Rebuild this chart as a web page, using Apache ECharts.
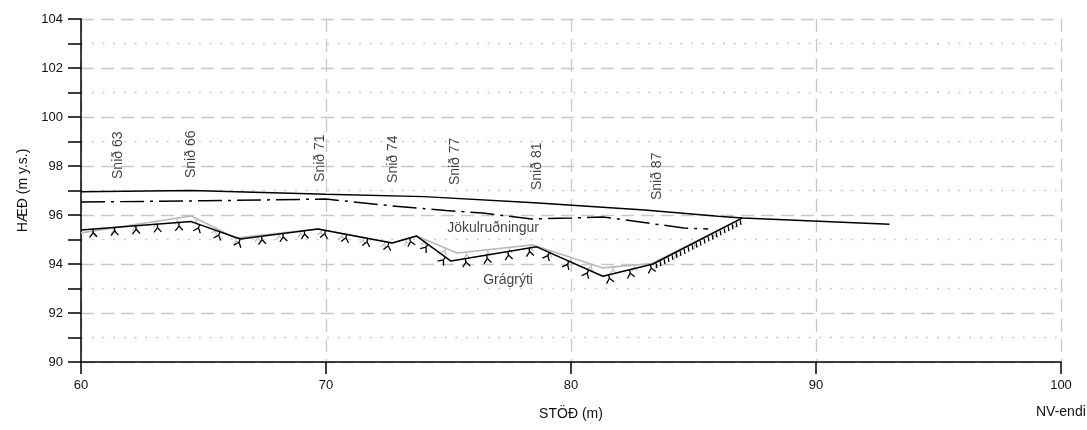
<!DOCTYPE html>
<html><head><meta charset="utf-8">
<script src="https://cdn.jsdelivr.net/npm/echarts@6/dist/echarts.min.js"></script>
<style>html,body{margin:0;padding:0;background:#fff}#c{width:1087px;height:430px}</style>
</head><body><div id="c"></div>
<script>
// ---- data ----
const xTicks = [60, 70, 80, 90, 100];
const yTicks = [90, 92, 94, 96, 98, 100, 102, 104];
// ground surface (solid)
const surfaceX = [60, 64.5, 70, 74, 78.5, 83, 86, 87, 93];
const surfaceY = [96.95, 97.0, 96.85, 96.75, 96.5, 96.2, 95.95, 95.88, 95.62];
// till boundary (dash-dot)
const tillX = [60, 65, 70, 72.7, 74.9, 76.4, 78.4, 80.0, 81.3, 84.6, 85.6];
const tillY = [96.53, 96.58, 96.65, 96.37, 96.18, 96.08, 95.84, 95.88, 95.92, 95.47, 95.43];
// bedrock surface (black)
const rockX = [60, 64.5, 66.5, 69.67, 72.7, 73.7, 75.1, 78.6, 81.3, 83.35, 87];
const rockY = [95.39, 95.73, 95.02, 95.43, 94.86, 95.14, 94.12, 94.7, 93.5, 94.0, 95.88];
// second bedrock interpretation (grey)
const rock2X = [60, 64.5, 66.3, 69.67, 72.7, 73.7, 75.35, 78.45, 81.3, 83.3, 87];
const rock2Y = [95.27, 95.96, 95.06, 95.43, 94.86, 95.14, 94.45, 94.78, 93.84, 94.02, 95.88];
// section labels
const sectionNames = ['Snið 63', 'Snið 66', 'Snið 71', 'Snið 74', 'Snið 77', 'Snið 81', 'Snið 87'];
const sectionX = [61.5, 64.5, 69.75, 72.73, 75.27, 78.6, 83.5];
const sectionY = [97.47, 97.51, 97.35, 97.31, 97.22, 97.02, 96.61];
// layer labels
const layerNames = ['Jökulruðningur', 'Grágrýti'];
const layerX = [76.82, 77.43];
const layerY = [95.47, 93.35];
const xName = 'STÖÐ (m)';
const yName = 'HÆÐ (m y.s.)';
const endName = 'NV-endi';

// ---- chart ----
const FONT = 'Liberation Sans, Arial, sans-serif';
const TXT = '#111';
const zip = (xs, ys) => xs.map((x, i) => [x, ys[i]]);
const denseFrom = 83.3;

function hatchSeries(xs, ys, color, spacing, offset, grey) {
  return {
    type: 'custom',
    silent: true,
    z: grey ? 3 : 5,
    data: zip(xs, ys),
    renderItem: function (params, api) {
      const i = params.dataIndex;
      if (i >= xs.length - 1) return null;
      const pts = xs.map((x, k) => api.coord([x, ys[k]]));
      const cum = [0];
      for (let k = 1; k < pts.length; k++) {
        cum.push(cum[k - 1] + Math.hypot(pts[k][0] - pts[k - 1][0], pts[k][1] - pts[k - 1][1]));
      }
      const a = pts[i], b = pts[i + 1];
      const L = cum[i + 1] - cum[i];
      const tx = (b[0] - a[0]) / L, ty = (b[1] - a[1]) / L;
      const nx = -ty, ny = tx;
      const children = [];
      const dense = !grey && xs[i] >= denseFrom - 0.01;
      const sp = dense ? 4.5 : spacing;
      let s = dense ? 3 : (Math.ceil((cum[i] - offset) / sp) * sp + offset - cum[i]);
      const stroke = { stroke: color, lineWidth: grey ? 1.1 : 1.3, fill: null };
      for (; s < L - (dense ? 2 : 0); s += sp) {
        const px = a[0] + tx * s, py = a[1] + ty * s;
        if (dense) {
          children.push({ type: 'line', shape: { x1: px + nx * 1, y1: py + ny * 1, x2: px + nx * 5.5 - tx * 1.5, y2: py + ny * 5.5 - ty * 1.5 }, style: stroke });
        } else {
          const h = grey ? 0.75 : 1;
          const sx = px + nx * 3.5 * h, sy = py + ny * 3.5 * h;
          children.push({ type: 'line', shape: { x1: px, y1: py, x2: sx, y2: sy }, style: stroke });
          children.push({ type: 'line', shape: { x1: sx, y1: sy, x2: px + nx * 8 * h - tx * 4 * h, y2: py + ny * 8 * h - ty * 4 * h }, style: stroke });
          children.push({ type: 'line', shape: { x1: sx, y1: sy, x2: px + nx * 8 * h + tx * 3.5 * h, y2: py + ny * 8 * h + ty * 3.5 * h }, style: stroke });
        }
      }
      return { type: 'group', children: children };
    }
  };
}

const chart = echarts.init(document.getElementById('c'), null, { renderer: 'canvas' });
chart.setOption({
  animation: false,
  backgroundColor: '#fff',
  textStyle: { fontFamily: FONT },
  grid: { left: 81, right: 26, top: 19, bottom: 68, containLabel: false },
  xAxis: {
    type: 'value', min: xTicks[0], max: xTicks[xTicks.length - 1], interval: 10,
    name: xName, nameLocation: 'middle', nameGap: 45,
    nameTextStyle: { color: TXT, fontSize: 14, fontFamily: FONT },
    axisLine: { lineStyle: { color: '#000', width: 1.5 } },
    axisTick: { length: 12, lineStyle: { color: '#000', width: 1.5 } },
    axisLabel: { color: TXT, fontSize: 13, fontFamily: FONT, margin: 17,
      formatter: v => xTicks.includes(v) ? String(v) : '' },
    splitLine: { show: true, lineStyle: { color: '#c8c8c8', width: 1.3, type: [13, 7] } }
  },
  yAxis: {
    type: 'value', min: yTicks[0], max: yTicks[yTicks.length - 1], interval: 2,
    name: yName, nameLocation: 'middle', nameGap: 42, nameRotate: 90,
    nameTextStyle: { color: TXT, fontSize: 14, fontFamily: FONT },
    axisLine: { show: true, lineStyle: { color: '#000', width: 1.5 } },
    axisTick: { show: true, length: 13, lineStyle: { color: '#000', width: 1.5 } },
    minorTick: { show: true, splitNumber: 2, length: 13, lineStyle: { color: '#000', width: 1.5 } },
    minorSplitLine: { show: true, lineStyle: { color: '#c8c8c8', width: 1.3, type: [2, 8.7] } },
    axisLabel: { color: TXT, fontSize: 13, fontFamily: FONT, margin: 18,
      formatter: v => yTicks.includes(v) ? String(v) : '' },
    splitLine: { show: true, lineStyle: { color: '#c8c8c8', width: 1.3, type: [13, 7] } }
  },
  graphic: [{
    type: 'text', left: 1036, top: 405,
    style: { text: endName, fill: TXT, font: '14px ' + FONT }
  }],
  series: [
    { type: 'line', data: zip(rock2X, rock2Y), symbol: 'none', z: 3,
      lineStyle: { color: '#b8b8b8', width: 1.6 } },
    hatchSeries(rock2X, rock2Y, '#b8b8b8', 21.5, 11, true),
    { type: 'line', data: zip(surfaceX, surfaceY), symbol: 'none', z: 4,
      lineStyle: { color: '#000', width: 1.5 } },
    { type: 'line', data: zip(tillX, tillY), symbol: 'none', z: 4,
      lineStyle: { color: '#000', width: 1.5, type: [24, 6, 3, 6] } },
    { type: 'line', data: zip(rockX, rockY), symbol: 'none', z: 5,
      lineStyle: { color: '#000', width: 1.5 } },
    hatchSeries(rockX, rockY, '#000', 21.5, 12, false),
    { type: 'scatter', symbolSize: 0, z: 6, silent: true,
      data: sectionNames.map((n, i) => ({ name: n, value: [sectionX[i], sectionY[i]] })),
      label: { show: true, formatter: p => p.name, rotate: 90, position: [0, 0],
        align: 'left', verticalAlign: 'middle', color: TXT, fontSize: 14, fontFamily: FONT } },
    { type: 'scatter', symbolSize: 0, z: 6, silent: true,
      data: layerNames.map((n, i) => ({ name: n, value: [layerX[i], layerY[i]] })),
      label: { show: true, formatter: p => p.name, position: [0, 0],
        align: 'center', verticalAlign: 'middle', color: TXT, fontSize: 14, fontFamily: FONT } }
  ]
});
</script>
</body></html>
